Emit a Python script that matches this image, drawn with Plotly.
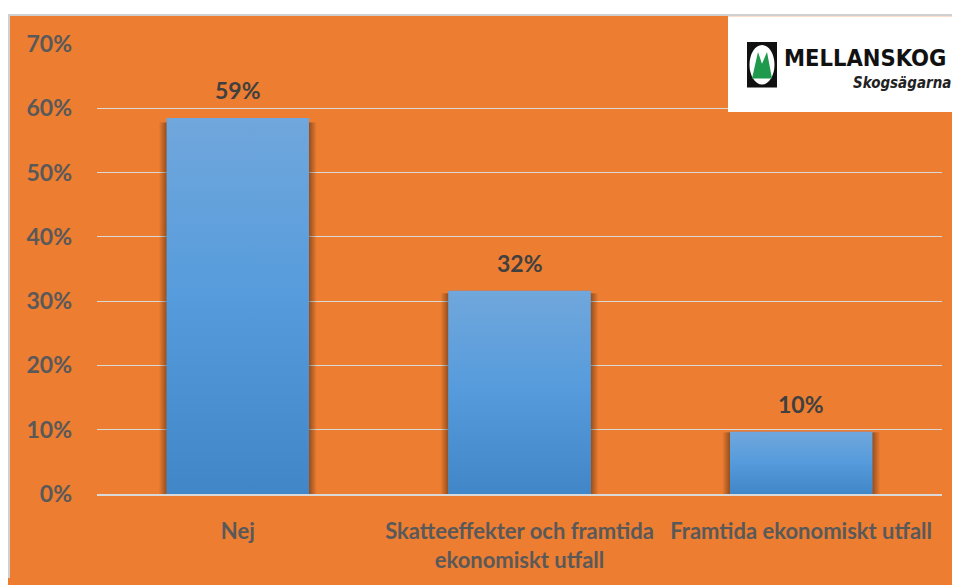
import base64
import plotly.graph_objects as go

categories = ["Nej", "Skatteeffekter och framtida<br>ekonomiskt utfall", "Framtida ekonomiskt utfall"]
values = [58.5, 31.6, 9.7]
data_labels = ["59%", "32%", "10%"]
tick_vals = [0, 10, 20, 30, 40, 50, 60, 70]
tick_text = ["0%", "10%", "20%", "30%", "40%", "50%", "60%", "70%"]

BAR_WIDTH = 0.505
SHADOW = 0.028  # soft side shadow, in category units

# page is 960x585; the figure sits at (8, 8) because of the body margin
OFF = 8
W, H = 960 - OFF, 585 - OFF
L, R, T, B = 97 - OFF, 18, 44 - OFF, 85
PW, PH = W - L - R, H - T - B

def px(x):  # page pixel x -> paper
    return (x - OFF - L) / PW

def py(y):  # page pixel y -> paper
    return 1 - (y - OFF - T) / PH

ORANGE = "#ED7D31"
TEXT = "#595959"
FONT = "Lato, 'Open Sans', sans-serif"
LOGO_FONT = "'DejaVu Sans Condensed', 'Liberation Sans Narrow', sans-serif"

# bar face: vertical gradient (lighter top, darker bottom) with soft side shadows
tot = BAR_WIDTH + 2 * SHADOW
VW = 1000.0
pad = VW * SHADOW / tot
grad_svg = (
    f'<svg xmlns="http://www.w3.org/2000/svg" width="{VW:.0f}" height="1000" viewBox="0 0 {VW:.0f} 1000" '
    'preserveAspectRatio="none"><defs>'
    '<linearGradient id="g" x1="0" y1="0" x2="0" y2="1">'
    '<stop offset="0" stop-color="#70a7dc"/><stop offset="0.5" stop-color="#559bdc"/>'
    '<stop offset="1" stop-color="#4187c7"/></linearGradient>'
    '<linearGradient id="sl" x1="0" y1="0" x2="1" y2="0">'
    '<stop offset="0" stop-color="#000" stop-opacity="0"/>'
    '<stop offset="1" stop-color="#000" stop-opacity="0.38"/></linearGradient>'
    '<linearGradient id="sr" x1="0" y1="0" x2="1" y2="0">'
    '<stop offset="0" stop-color="#000" stop-opacity="0.38"/>'
    '<stop offset="1" stop-color="#000" stop-opacity="0"/></linearGradient>'
    '</defs>'
    f'<rect x="0" y="12" width="{pad:.2f}" height="988" fill="url(#sl)"/>'
    f'<rect x="{VW - pad:.2f}" y="12" width="{pad:.2f}" height="988" fill="url(#sr)"/>'
    f'<rect x="{pad:.2f}" y="0" width="{VW - 2 * pad:.2f}" height="1000" fill="url(#g)"/>'
    '</svg>'
)
grad_uri = "data:image/svg+xml;base64," + base64.b64encode(grad_svg.encode()).decode()

fig = go.Figure()
fig.add_trace(go.Bar(
    x=categories, y=values, width=BAR_WIDTH,
    marker=dict(color="#5599d8", line=dict(width=0)),
    hoverinfo="skip",
))

images = []
for i, v in enumerate(values):
    images.append(dict(
        source=grad_uri, xref="x", yref="y",
        x=i - tot / 2, y=v, sizex=tot, sizey=v,
        xanchor="left", yanchor="top", sizing="stretch", layer="above",
    ))

annotations = []
for c, v, t in zip(categories, values, data_labels):
    annotations.append(dict(
        x=c, y=v, xref="x", yref="y", text=t, showarrow=False,
        yanchor="bottom", yshift=12,
        font=dict(family=FONT, size=23, color="#404040", weight="bold"),
    ))

# logo texts
annotations.append(dict(
    x=px(782), y=py(58), xref="paper", yref="paper", text="<b>MELLANSKOG</b>",
    showarrow=False, xanchor="left", yanchor="middle",
    font=dict(family=LOGO_FONT, size=23.5, color="#111111"),
))
annotations.append(dict(
    x=px(953), y=py(84), xref="paper", yref="paper", text="<b><i>Skogsägarna</i></b>",
    showarrow=False, xanchor="right", yanchor="middle",
    font=dict(family=LOGO_FONT, size=15, color="#222222"),
))

shapes = [
    # white top strip with gray border
    dict(type="rect", xref="paper", yref="paper", x0=px(6), x1=px(962), y0=py(6), y1=py(14),
         fillcolor="white", line=dict(width=0), layer="above"),
    dict(type="line", xref="paper", yref="paper", x0=px(8.5), x1=px(960), y0=py(14.5), y1=py(14.5),
         line=dict(color="#d0d0d0", width=2), layer="above"),
    dict(type="line", xref="paper", yref="paper", x0=px(9), x1=px(9), y0=py(14.5), y1=py(585),
         line=dict(color="#d0d0d0", width=2), layer="above"),
    # logo box
    dict(type="rect", xref="paper", yref="paper", x0=px(728), x1=px(962), y0=py(16), y1=py(113),
         fillcolor="white", line=dict(width=0), layer="above"),
    # icon
    dict(type="rect", xref="paper", yref="paper", x0=px(747), x1=px(777), y0=py(42), y1=py(88),
         fillcolor="#111111", line=dict(width=0), layer="above"),
    dict(type="circle", xref="paper", yref="paper", x0=px(749.5), x1=px(774.5), y0=py(45), y1=py(85),
         fillcolor="white", line=dict(width=0), layer="above"),
]
# green twin peaks path
pts = [(752, 79), (758, 52), (762, 64), (767, 52), (772, 79)]
path = "M " + " L ".join(f"{px(a):.5f},{py(b):.5f}" for a, b in pts) + " Z"
shapes.append(dict(type="path", xref="paper", yref="paper", path=path,
                   fillcolor="#1f9a4c", line=dict(width=0), layer="above"))

fig.update_layout(
    width=W, height=H,
    margin=dict(l=L, r=R, t=T, b=B, pad=0),
    paper_bgcolor=ORANGE, plot_bgcolor=ORANGE,
    showlegend=False,
    bargap=1 - BAR_WIDTH,
    annotations=annotations,
    shapes=shapes,
    images=images,
    xaxis=dict(
        showgrid=False, showline=True, linecolor="#d9d9d9", linewidth=2,
        ticks="", ticklabelstandoff=17,
        tickfont=dict(family=FONT, size=22, color=TEXT, weight="bold"),
        fixedrange=True,
    ),
    yaxis=dict(
        range=[0, 70], tickvals=tick_vals, ticktext=tick_text,
        showgrid=True, gridcolor="#d9d9d9", gridwidth=1.3,
        zeroline=False, showline=False, ticks="", ticklabelstandoff=24,
        tickfont=dict(family=FONT, size=23, color=TEXT, weight="bold"),
        fixedrange=True,
    ),
    font=dict(family=FONT),
)

fig.write_html("out.html", config={"displayModeBar": False})
